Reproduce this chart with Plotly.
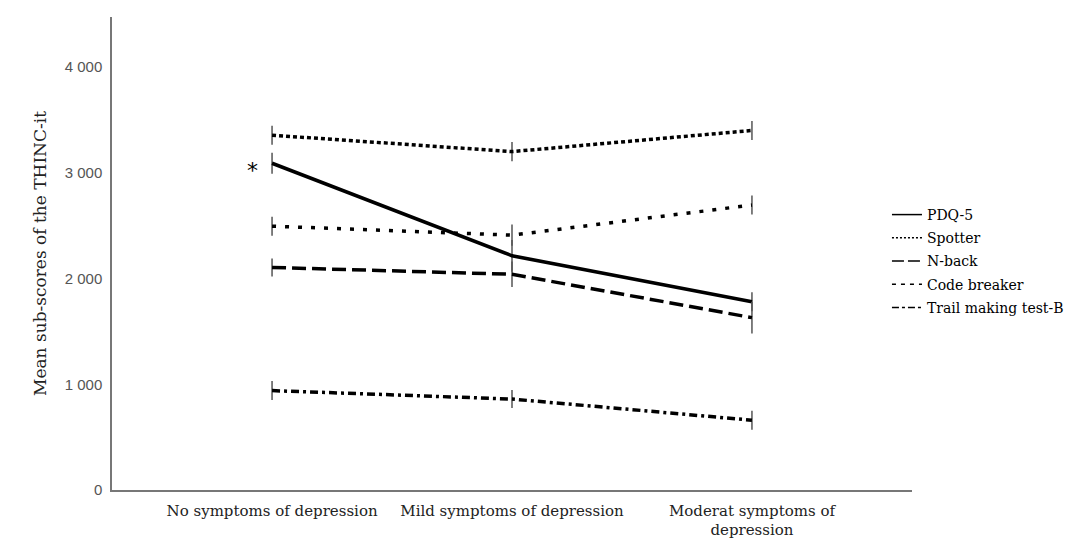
import plotly.graph_objects as go

categories = ["No symptoms of depression", "Mild symptoms of depression", "Moderat symptoms of<br>depression"]

pdq5 = [3090, 2215, 1780]
spotter = [3355, 3200, 3400]
nback = [2105, 2040, 1630]
code_breaker = [2495, 2410, 2695]
trail_b = [940, 860, 660]

pdq5_err = [100, 150, 90]
spotter_err = [90, 90, 90]
nback_err = [85, 120, 150]
code_breaker_err = [90, 100, 90]
trail_b_err = [90, 85, 90]

y_ticks = [0, 1000, 2000, 3000, 4000]
y_tick_text = ["0", "1 000", "2 000", "3 000", "4 000"]

series = [
    ("PDQ-5", pdq5, pdq5_err, "solid", "solid"),
    ("Spotter", spotter, spotter_err, "4px,3px", "2px,2px"),
    ("N-back", nback, nback_err, "14px,6px", "12px,4px"),
    ("Code breaker", code_breaker, code_breaker_err, "4px,9px", "4px,5px"),
    ("Trail making test-B", trail_b, trail_b_err, "8px,4px,3px,4px", "7px,3px,3px,3px"),
]

fig = go.Figure()
for i, (name, vals, err, dash, leg_dash) in enumerate(series):
    fig.add_trace(go.Scatter(
        x=categories, y=vals, name=name, mode="lines", showlegend=False,
        line=dict(color="black", width=3.5, dash=dash),
        error_y=dict(type="data", array=err, visible=True, color="#555555",
                     thickness=1.5, width=0),
    ))
for i, (name, vals, err, dash, leg_dash) in enumerate(series):
    fig.add_trace(go.Scatter(
        x=[None], y=[None], name=name, mode="lines", legendgroup=f"g{i}",
        line=dict(color="black", width=1.5, dash=leg_dash),
    ))

fig.add_annotation(x=categories[0], y=pdq5[0], text="*", showarrow=False,
                   xshift=-20, yshift=-7, font=dict(family="DejaVu Sans", size=22, color="black"))

fig.update_layout(
    width=1068, height=532,
    margin=dict(l=104, r=164, t=9, b=50, autoexpand=False),
    paper_bgcolor="white", plot_bgcolor="white",
    showlegend=True,
    legend=dict(xref="container", yref="container", x=0.823, y=0.641,
                xanchor="left", yanchor="top",
                font=dict(family="DejaVu Serif", size=14, color="black"),
                itemwidth=30, tracegroupgap=2, bgcolor="rgba(0,0,0,0)"),
    xaxis=dict(type="category", range=[-0.667, 2.667], showgrid=False, automargin=False,
               showline=True, linecolor="#777777", linewidth=1.5, zeroline=False,
               tickfont=dict(family="DejaVu Serif", size=15, color="#222222"),
               ticks="", ticklabelstandoff=6),
    yaxis=dict(range=[0, 4473], showgrid=False, zeroline=False, automargin=False,
               showline=True, linecolor="#777777", linewidth=1.5,
               tickvals=y_ticks, ticktext=y_tick_text,
               tickfont=dict(family="Liberation Sans", size=15, color="#555555"),
               ticks="", ticklabelstandoff=5,
               title=dict(text="Mean sub-scores of the THINC-it", standoff=14,
                          font=dict(family="DejaVu Serif", size=17, color="#222222"))),
)

fig.write_html("out.html")
